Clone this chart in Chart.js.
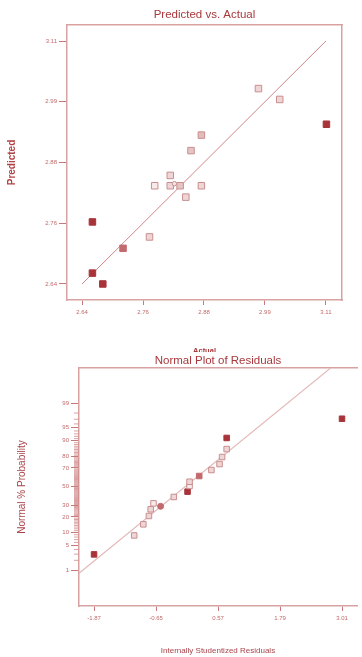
<!DOCTYPE html>
<html>
<head>
<meta charset="utf-8">
<script src="https://cdn.jsdelivr.net/npm/chart.js@4"></script>
<style>
  html, body { margin: 0; padding: 0; background: #fff; }
  body { width: 362px; height: 657px; position: relative; overflow: hidden; }
  canvas { position: absolute; left: 0; background: #fff; }
  #predChart { top: 0; }
  #resChart { top: 352px; }
</style>
</head>
<body>
<canvas id="predChart" width="362" height="360"></canvas>
<canvas id="resChart" width="362" height="305"></canvas>
<script>
// --- data: Predicted vs. Actual ---
const actualVals    = [2.980, 3.021, 3.111, 2.870, 2.850, 2.810, 2.780, 2.810, 2.829, 2.870, 2.840, 2.660, 2.770, 2.719, 2.660, 2.680, 2.818];
const predictedVals = [3.018, 2.997, 2.949, 2.928, 2.898, 2.850, 2.830, 2.830, 2.830, 2.830, 2.808, 2.760, 2.731, 2.709, 2.661, 2.640, 2.834];
const fitLineActual    = [2.64, 3.11];
const fitLinePredicted = [2.64, 3.11];
const predTickVals   = [2.64, 2.7575, 2.875, 2.9925, 3.11];
const predTickLabels = ['2.64', '2.76', '2.88', '2.99', '3.11'];

// --- data: Normal Plot of Residuals ---
const residuals  = [-1.87, -1.08, -0.90, -0.79, -0.755, -0.70, -0.56, -0.30, -0.03, 0.01, 0.01, 0.20, 0.44, 0.60, 0.65, 0.74, 0.74, 3.01];
const normalProb = [2.95, 8.7, 14.7, 20.7, 26.4, 32.1, 29.2, 38.7, 44.5, 50.8, 55.5, 61.7, 67.9, 73.6, 79.6, 85.3, 91.3, 97.1];
const resLineX = [-2.166, 2.784];
const resLineP = [0.785, 99.953];
const resTickVals  = [-1.87, -0.65, 0.57, 1.79, 3.01];
const resTickLabels = ['-1.87', '-0.65', '0.57', '1.79', '3.01'];
const probTicks = [1, 5, 10, 20, 30, 50, 70, 80, 90, 95, 99];

// colours
const dark = '#a8343a', medium = '#c26a6e', light = '#efd6d6', lightEdge = '#c98e8e';
const frame = '#d8a2a2', tickCol = '#c87878', labelCol = '#c06a6a', titleCol = '#a8383c';
const sans = "'Liberation Sans', Arial, sans-serif";

Chart.defaults.font.family = sans;
Chart.defaults.plugins.legend.display = false;
Chart.defaults.plugins.tooltip.enabled = false;
Chart.defaults.animation = false;

// inverse normal cdf (Acklam) for probability axis
function probit(p) {
  const a = [-39.69683028665376, 220.9460984245205, -275.9285104469687, 138.3577518672690, -30.66479806614716, 2.506628277459239];
  const b = [-54.47609879822406, 161.5858368580409, -155.6989798598866, 66.80131188771972, -13.28068155211639];
  const c = [-0.007784894002430293, -0.3223964580411365, -2.400758277161838, -2.549732539343734, 4.374664141464968, 2.938163982698783];
  const d = [0.007784695709041462, 0.3224671290700398, 2.445134137142996, 3.754408661907416];
  const pl = 0.02425;
  if (p < pl) {
    const q = Math.sqrt(-2 * Math.log(p));
    return (((((c[0]*q+c[1])*q+c[2])*q+c[3])*q+c[4])*q+c[5]) / ((((d[0]*q+d[1])*q+d[2])*q+d[3])*q+1);
  }
  if (p > 1 - pl) {
    const q = Math.sqrt(-2 * Math.log(1 - p));
    return -(((((c[0]*q+c[1])*q+c[2])*q+c[3])*q+c[4])*q+c[5]) / ((((d[0]*q+d[1])*q+d[2])*q+d[3])*q+1);
  }
  const q = p - 0.5, r = q * q;
  return (((((a[0]*r+a[1])*r+a[2])*r+a[3])*r+a[4])*r+a[5])*q / (((((b[0]*r+b[1])*r+b[2])*r+b[3])*r+b[4])*r+1);
}

// point styling (by run)
const predFill = [light, light, dark, '#e2bcbc', '#e6c4c4', light, '#f6eaea', light, '#e6c4c4', light, light, dark, light, medium, dark, dark, '#f4e4e4'];
const predEdge = predFill.map(c => (c === dark || c === medium) ? c : lightEdge);
const predStyle = actualVals.map((v, i) => i === 16 ? 'circle' : 'rect');
const predRadius = actualVals.map((v, i) => i === 16 ? 2.2 : 4.6);

const resFill = [dark, light, light, light, light, '#f6eaea', medium, light, dark, '#f6eaea', light, medium, light, light, light, light, dark, dark];
const resEdge = resFill.map(c => (c === dark || c === medium) ? c : lightEdge);
const resStyle = residuals.map((v, i) => i === 6 ? 'circle' : 'rect');
const resRadius = residuals.map((v, i) => i === 6 ? 3 : 3.9);

function tickFont(size) { return { size: size, family: sans }; }

// --- Chart 1: Predicted vs. Actual ---
new Chart(document.getElementById('predChart'), {
  type: 'scatter',
  data: {
    datasets: [{
      data: actualVals.map((v, i) => ({ x: v, y: predictedVals[i] })),
      pointStyle: predStyle,
      pointRadius: predRadius,
      backgroundColor: predFill,
      borderColor: predEdge,
      borderWidth: 1
    }, {
      data: fitLineActual.map((v, i) => ({ x: v, y: fitLinePredicted[i] })),
      showLine: true,
      pointRadius: 0,
      borderColor: '#cf8686',
      borderWidth: 1
    }]
  },
  options: {
    responsive: false,
    layout: { padding: 0 },
    scales: {
      x: {
        type: 'linear', position: 'bottom', min: 2.611, max: 3.141,
        afterBuildTicks: s => { s.ticks = predTickVals.map(v => ({ value: v })); },
        afterFit: s => { s.height = 60; },
        ticks: { autoSkip: false, maxRotation: 0, padding: 4, color: labelCol, font: tickFont(6),
                 callback: (v, i) => predTickLabels[i] },
        grid: { drawOnChartArea: false, tickLength: 5, color: tickCol },
        border: { color: frame, width: 1.5 },
        title: { display: true, text: 'Actual', color: titleCol,
                 font: { size: 7.5, weight: 'bold', family: sans },
                 padding: { top: 0, bottom: 5 } }
      },
      y: {
        type: 'linear', position: 'left', min: 2.609, max: 3.141,
        afterBuildTicks: s => { s.ticks = predTickVals.map(v => ({ value: v })); },
        afterFit: s => { s.width = 67; },
        ticks: { autoSkip: false, padding: 2, color: labelCol, font: tickFont(6),
                 callback: (v, i) => predTickLabels[i] },
        grid: { drawOnChartArea: false, tickLength: 8, color: tickCol },
        border: { color: frame, width: 1.5 },
        title: { display: true, text: 'Predicted', color: '#b24448',
                 font: { size: 10, weight: 'bold', family: sans },
                 padding: { top: 6, bottom: 0 } }
      },
      x2: {
        axis: 'x', type: 'linear', position: 'top', min: 2.611, max: 3.141,
        afterFit: s => { s.height = 25; },
        ticks: { display: false },
        grid: { display: false },
        border: { color: frame, width: 1.5 },
        title: { display: true, text: 'Predicted vs. Actual', color: titleCol,
                 font: { size: 11.5, family: sans }, padding: { top: 8, bottom: 0 } }
      },
      y2: {
        axis: 'y', type: 'linear', position: 'right', min: 2.609, max: 3.141,
        afterFit: s => { s.width = 20; },
        ticks: { display: false },
        grid: { display: false },
        border: { color: frame, width: 1.5 }
      }
    }
  }
});

// minor ticks on the probability axis (every 1%)
const minorProbTicks = {
  id: 'minorProbTicks',
  afterDraw(chart) {
    const ys = chart.scales.y, ctx = chart.ctx, left = chart.chartArea.left;
    ctx.save();
    ctx.strokeStyle = '#d08c8c';
    ctx.lineWidth = 0.8;
    ctx.beginPath();
    for (let p = 1; p <= 99; p++) {
      if (probTicks.includes(p)) continue;
      const y = ys.getPixelForValue(probit(p / 100));
      ctx.moveTo(left - 5, y);
      ctx.lineTo(left, y);
    }
    ctx.stroke();
    ctx.restore();
  }
};

// --- Chart 2: Normal Plot of Residuals ---
new Chart(document.getElementById('resChart'), {
  type: 'scatter',
  plugins: [minorProbTicks],
  data: {
    datasets: [{
      data: residuals.map((v, i) => ({ x: v, y: probit(normalProb[i] / 100) })),
      pointStyle: resStyle,
      pointRadius: resRadius,
      backgroundColor: resFill,
      borderColor: resEdge,
      borderWidth: 1
    }, {
      data: resLineX.map((v, i) => ({ x: v, y: probit(resLineP[i] / 100) })),
      showLine: true,
      pointRadius: 0,
      borderColor: '#e2b8b8',
      borderWidth: 1.2
    }]
  },
  options: {
    responsive: false,
    layout: { padding: 0 },
    scales: {
      x: {
        type: 'linear', position: 'bottom', min: -2.166, max: 3.305,
        afterBuildTicks: s => { s.ticks = resTickVals.map(v => ({ value: v })); },
        afterFit: s => { s.height = 51; },
        ticks: { autoSkip: false, maxRotation: 0, padding: 4, color: labelCol, font: tickFont(6),
                 callback: (v, i) => resTickLabels[i] },
        grid: { drawOnChartArea: false, tickLength: 5, color: tickCol },
        border: { color: frame, width: 1.5 },
        title: { display: true, text: 'Internally Studentized Residuals', color: '#a8444a',
                 font: { size: 8, family: sans }, padding: { top: 0, bottom: 1 } }
      },
      y: {
        type: 'linear', position: 'left', min: -3.328, max: 3.311,
        afterBuildTicks: s => { s.ticks = probTicks.map(p => ({ value: probit(p / 100) })); },
        afterFit: s => { s.width = 79; },
        ticks: { autoSkip: false, padding: 2, color: labelCol, font: tickFont(6),
                 callback: (v, i) => String(probTicks[i]) },
        grid: { drawOnChartArea: false, tickLength: 8, color: tickCol },
        border: { color: frame, width: 1.5 },
        title: { display: true, text: 'Normal % Probability', color: '#a8444a',
                 font: { size: 10, family: sans },
                 padding: { top: 16, bottom: 0 } }
      },
      x2: {
        axis: 'x', type: 'linear', position: 'top', min: -2.166, max: 3.305,
        afterFit: s => { s.height = 16; },
        ticks: { display: false },
        grid: { display: false },
        border: { color: frame, width: 1.5 },
        title: { display: true, text: 'Normal Plot of Residuals', color: titleCol,
                 font: { size: 11.5, family: sans }, padding: { top: 2, bottom: 0 } }
      }
    }
  }
});
</script>
</body>
</html>
